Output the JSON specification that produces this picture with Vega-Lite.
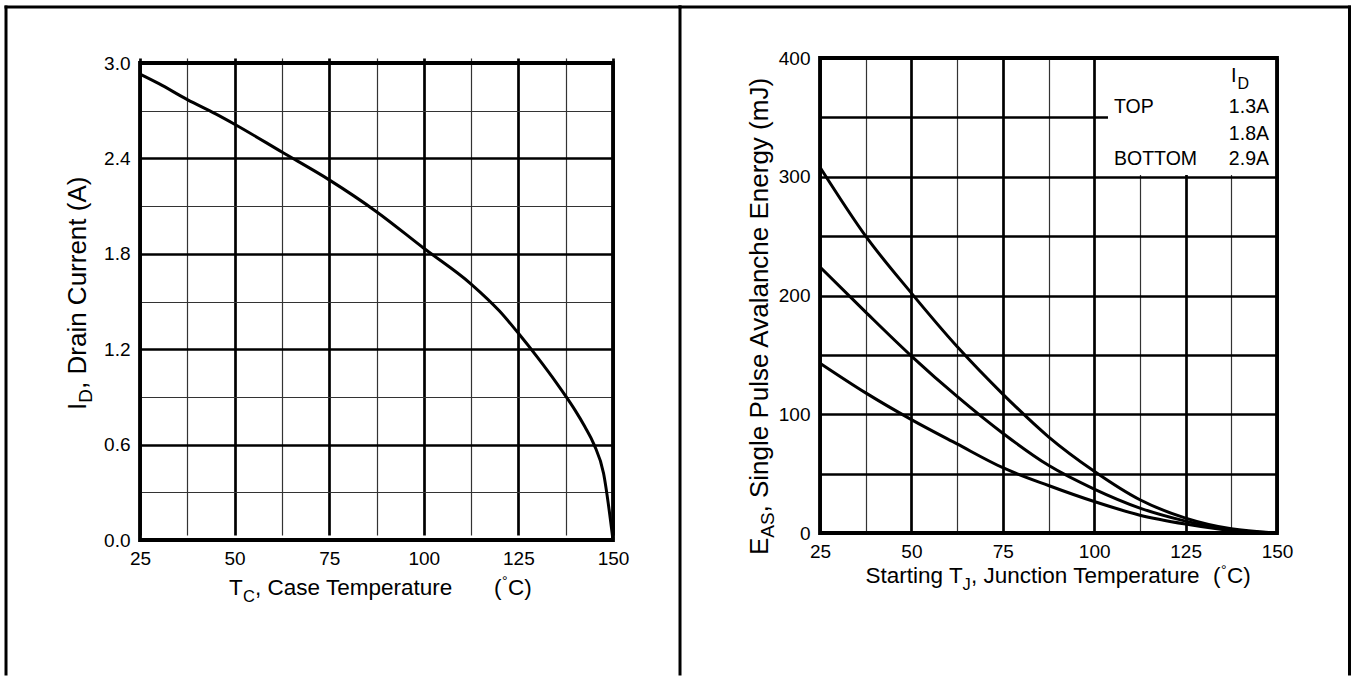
{
  "$schema": "https://vega.github.io/schema/vega-lite/v6.json",
  "background": "white",
  "padding": {"left": 3, "top": 4, "right": 0, "bottom": 0},
  "autosize": {"type": "pad"},
  "spacing": 207,
  "bounds": "flush",
  "config": {"view": {"stroke": null}, "font": "Liberation Sans", "text": {"font": "Liberation Sans", "color": "black"}},
  "hconcat": [
    {
      "width": 473,
      "height": 482,
      "layer": [
        {
          "data": {"values": [
            {"T": 25, "I": 2.93}, {"T": 30, "I": 2.87}, {"T": 37.5, "I": 2.77}, {"T": 45, "I": 2.68},
            {"T": 50, "I": 2.615}, {"T": 62.5, "I": 2.44}, {"T": 75, "I": 2.265}, {"T": 87.5, "I": 2.065},
            {"T": 100, "I": 1.835}, {"T": 112.5, "I": 1.61}, {"T": 120, "I": 1.44}, {"T": 125, "I": 1.30},
            {"T": 130, "I": 1.15}, {"T": 135, "I": 0.99}, {"T": 137.5, "I": 0.905}, {"T": 140, "I": 0.815},
            {"T": 142.5, "I": 0.715}, {"T": 145, "I": 0.6}, {"T": 147.5, "I": 0.42}, {"T": 150, "I": 0.0}
          ]},
          "mark": {"type": "line", "color": "black", "strokeWidth": 3, "interpolate": "monotone"},
          "encoding": {
            "x": {"field": "T", "type": "quantitative",
              "scale": {"domain": [25, 150], "nice": false, "zero": false},
              "axis": {"title": null, "values": [25, 37.5, 50, 62.5, 75, 87.5, 100, 112.5, 125, 137.5, 150],
                "labelExpr": "datum.value % 25 == 0 ? format(datum.value, 'd') : ''",
                "grid": true,
                "gridColor": {"condition": {"test": "datum.value % 25 == 0", "value": "#000000"}, "value": "#333333"},
                "gridWidth": {"condition": {"test": "datum.value % 25 == 0", "value": 2.7}, "value": 1.2},
                "domain": false, "ticks": false, "labelPadding": 9, "labelFontSize": 19, "labelFont": "Liberation Sans",
                "labelColor": "black", "labelFlush": false, "labelOverlap": false, "labelBound": false}},
            "y": {"field": "I", "type": "quantitative",
              "scale": {"domain": [0, 3], "range": [482, 5], "nice": false, "zero": false},
              "axis": {"title": null, "values": [0, 0.3, 0.6, 0.9, 1.2, 1.5, 1.8, 2.1, 2.4, 2.7, 3.0],
                "labelExpr": "round(datum.value * 10) % 6 == 0 ? format(datum.value, '.1f') : ''",
                "grid": true,
                "gridColor": {"condition": {"test": "round(datum.value * 10) % 6 == 0", "value": "#000000"}, "value": "#333333"},
                "gridWidth": {"condition": {"test": "round(datum.value * 10) % 6 == 0", "value": 2.7}, "value": 1.2},
                "domain": false, "ticks": false, "labelPadding": 10, "labelFontSize": 19, "labelFont": "Liberation Sans",
                "labelColor": "black", "labelFlush": false, "labelOverlap": false, "labelBound": false}}
          }
        },
        {
          "data": {"values": [{}]},
          "layer": [
            {
              "mark": {"type": "rect", "filled": false, "color": "black", "strokeWidth": 3.8},
              "encoding": {
                "x": {"datum": 25, "type": "quantitative"}, "x2": {"datum": 150},
                "y": {"datum": 0, "type": "quantitative"}, "y2": {"datum": 3}
              }
            },
            {
              "mark": {"type": "rule", "color": "black", "strokeWidth": 3, "strokeCap": "square"},
              "encoding": {
                "x": {"datum": -10.41, "type": "quantitative"},
                "y": {"datum": 3.352, "type": "quantitative"}, "y2": {"datum": -0.843}
              }
            },
            {
              "mark": {"type": "rule", "color": "black", "strokeWidth": 3, "strokeCap": "square"},
              "encoding": {
                "x": {"datum": 167.71, "type": "quantitative"},
                "y": {"datum": 3.352, "type": "quantitative"}, "y2": {"datum": -0.843}
              }
            },
            {
              "mark": {"type": "rule", "color": "black", "strokeWidth": 3, "strokeCap": "square"},
              "encoding": {
                "x": {"datum": -10.41, "type": "quantitative"}, "x2": {"datum": 167.71},
                "y": {"datum": 3.352, "type": "quantitative"}
              }
            },
            {
              "mark": {"type": "text", "text": "T", "fontSize": 22.5, "align": "left", "baseline": "alphabetic", "color": "black"},
              "encoding": {"x": {"datum": 48.52, "type": "quantitative"}, "y": {"datum": -0.346, "type": "quantitative"}}
            },
            {
              "mark": {"type": "text", "text": "C", "fontSize": 16.5, "align": "left", "baseline": "alphabetic", "color": "black"},
              "encoding": {"x": {"datum": 52.2, "type": "quantitative"}, "y": {"datum": -0.39, "type": "quantitative"}}
            },
            {
              "mark": {"type": "text", "text": ", Case Temperature", "fontSize": 22.5, "align": "left", "baseline": "alphabetic", "color": "black"},
              "encoding": {"x": {"datum": 55.4, "type": "quantitative"}, "y": {"datum": -0.346, "type": "quantitative"}}
            },
            {
              "mark": {"type": "text", "text": "(", "fontSize": 22.5, "align": "left", "baseline": "alphabetic", "color": "black"},
              "encoding": {"x": {"datum": 118.55, "type": "quantitative"}, "y": {"datum": -0.346, "type": "quantitative"}}
            },
            {
              "mark": {"type": "text", "text": "°", "fontSize": 14, "align": "left", "baseline": "alphabetic", "color": "black"},
              "encoding": {"x": {"datum": 120.67, "type": "quantitative"}, "y": {"datum": -0.289, "type": "quantitative"}}
            },
            {
              "mark": {"type": "text", "text": "C)", "fontSize": 22.5, "align": "left", "baseline": "alphabetic", "color": "black"},
              "encoding": {"x": {"datum": 122.25, "type": "quantitative"}, "y": {"datum": -0.346, "type": "quantitative"}}
            },
            {
              "mark": {"type": "text", "text": "I", "fontSize": 26, "angle": 270, "align": "left", "baseline": "alphabetic", "color": "black"},
              "encoding": {"x": {"datum": 10.73, "type": "quantitative"}, "y": {"datum": 0.818, "type": "quantitative"}}
            },
            {
              "mark": {"type": "text", "text": "D", "fontSize": 19, "angle": 270, "align": "left", "baseline": "alphabetic", "color": "black"},
              "encoding": {"x": {"datum": 12.31, "type": "quantitative"}, "y": {"datum": 0.863, "type": "quantitative"}}
            },
            {
              "mark": {"type": "text", "text": ", Drain Current (A)", "fontSize": 26, "angle": 270, "align": "left", "baseline": "alphabetic", "color": "black"},
              "encoding": {"x": {"datum": 10.73, "type": "quantitative"}, "y": {"datum": 0.95, "type": "quantitative"}}
            }
          ]
        }
      ]
    },
    {
      "width": 457,
      "height": 475,
      "layer": [
        {
          "data": {"values": [
            {"T": 25, "E": 308, "ID": "1.3A"}, {"T": 37.5, "E": 250, "ID": "1.3A"}, {"T": 50, "E": 202, "ID": "1.3A"},
            {"T": 62.5, "E": 157, "ID": "1.3A"}, {"T": 75, "E": 117, "ID": "1.3A"}, {"T": 87.5, "E": 81, "ID": "1.3A"},
            {"T": 100, "E": 52, "ID": "1.3A"}, {"T": 112.5, "E": 28, "ID": "1.3A"}, {"T": 125, "E": 12.5, "ID": "1.3A"},
            {"T": 137.5, "E": 3.5, "ID": "1.3A"}, {"T": 150, "E": 0, "ID": "1.3A"},
            {"T": 25, "E": 224, "ID": "1.8A"}, {"T": 37.5, "E": 186, "ID": "1.8A"}, {"T": 50, "E": 149, "ID": "1.8A"},
            {"T": 62.5, "E": 115, "ID": "1.8A"}, {"T": 75, "E": 84, "ID": "1.8A"}, {"T": 87.5, "E": 57, "ID": "1.8A"},
            {"T": 100, "E": 37, "ID": "1.8A"}, {"T": 112.5, "E": 21, "ID": "1.8A"}, {"T": 125, "E": 10, "ID": "1.8A"},
            {"T": 137.5, "E": 2.5, "ID": "1.8A"}, {"T": 150, "E": 0, "ID": "1.8A"},
            {"T": 25, "E": 143, "ID": "2.9A"}, {"T": 37.5, "E": 118, "ID": "2.9A"}, {"T": 50, "E": 95.5, "ID": "2.9A"},
            {"T": 62.5, "E": 75, "ID": "2.9A"}, {"T": 75, "E": 55, "ID": "2.9A"}, {"T": 87.5, "E": 40, "ID": "2.9A"},
            {"T": 100, "E": 26.5, "ID": "2.9A"}, {"T": 112.5, "E": 15, "ID": "2.9A"}, {"T": 125, "E": 7.5, "ID": "2.9A"},
            {"T": 137.5, "E": 2, "ID": "2.9A"}, {"T": 150, "E": 0, "ID": "2.9A"}
          ]},
          "mark": {"type": "line", "color": "black", "strokeWidth": 3, "interpolate": "monotone"},
          "encoding": {
            "detail": {"field": "ID", "type": "nominal"},
            "x": {"field": "T", "type": "quantitative",
              "scale": {"domain": [25, 150], "nice": false, "zero": false},
              "axis": {"title": null, "values": [25, 37.5, 50, 62.5, 75, 87.5, 100, 112.5, 125, 137.5, 150],
                "labelExpr": "datum.value % 25 == 0 ? format(datum.value, 'd') : ''",
                "grid": true,
                "gridColor": {"condition": {"test": "datum.value % 25 == 0", "value": "#000000"}, "value": "#333333"},
                "gridWidth": {"condition": {"test": "datum.value % 25 == 0", "value": 2.7}, "value": 1.2},
                "domain": false, "ticks": false, "labelPadding": 9, "labelFontSize": 19, "labelFont": "Liberation Sans",
                "labelColor": "black", "labelFlush": false, "labelOverlap": false, "labelBound": false}},
            "y": {"field": "E", "type": "quantitative",
              "scale": {"domain": [0, 400], "nice": false, "zero": false},
              "axis": {"title": null, "values": [0, 50, 100, 150, 200, 250, 300, 350, 400],
                "labelExpr": "datum.value % 100 == 0 ? format(datum.value, 'd') : ''",
                "grid": true, "gridColor": "#000000", "gridWidth": 2.7,
                "domain": false, "ticks": false, "labelPadding": 10, "labelFontSize": 19, "labelFont": "Liberation Sans",
                "labelColor": "black", "labelFlush": false, "labelOverlap": false, "labelBound": false}}
          }
        },
        {
          "data": {"values": [{}]},
          "layer": [
            {
              "mark": {"type": "rect", "color": "white", "strokeWidth": 0},
              "encoding": {
                "x": {"datum": 103.77, "type": "quantitative"}, "x2": {"datum": 150},
                "y": {"datum": 301.5, "type": "quantitative"}, "y2": {"datum": 400}
              }
            },
            {
              "mark": {"type": "rect", "filled": false, "color": "black", "strokeWidth": 3.8},
              "encoding": {
                "x": {"datum": 25, "type": "quantitative"}, "x2": {"datum": 150},
                "y": {"datum": 0, "type": "quantitative"}, "y2": {"datum": 400}
              }
            },
            {
              "mark": {"type": "rule", "color": "black", "strokeWidth": 3, "strokeCap": "square"},
              "encoding": {
                "x": {"datum": 169.83, "type": "quantitative"},
                "y": {"datum": 442.95, "type": "quantitative"}, "y2": {"datum": -118.7}
              }
            },
            {
              "mark": {"type": "rule", "color": "black", "strokeWidth": 3, "strokeCap": "square"},
              "encoding": {
                "x": {"datum": -13.29, "type": "quantitative"}, "x2": {"datum": 169.83},
                "y": {"datum": 442.95, "type": "quantitative"}
              }
            },
            {
              "mark": {"type": "text", "text": "I", "fontSize": 20, "align": "left", "baseline": "alphabetic", "color": "black"},
              "encoding": {"x": {"datum": 137.42, "type": "quantitative"}, "y": {"datum": 379.8, "type": "quantitative"}}
            },
            {
              "mark": {"type": "text", "text": "D", "fontSize": 16, "align": "left", "baseline": "alphabetic", "color": "black"},
              "encoding": {"x": {"datum": 139.2, "type": "quantitative"}, "y": {"datum": 373.6, "type": "quantitative"}}
            },
            {
              "mark": {"type": "text", "text": "TOP", "fontSize": 19.5, "align": "left", "baseline": "alphabetic", "color": "black"},
              "encoding": {"x": {"datum": 105.42, "type": "quantitative"}, "y": {"datum": 353.7, "type": "quantitative"}}
            },
            {
              "mark": {"type": "text", "text": "1.3A", "fontSize": 19.5, "align": "right", "baseline": "alphabetic", "color": "black"},
              "encoding": {"x": {"datum": 147.81, "type": "quantitative"}, "y": {"datum": 353.7, "type": "quantitative"}}
            },
            {
              "mark": {"type": "text", "text": "1.8A", "fontSize": 19.5, "align": "right", "baseline": "alphabetic", "color": "black"},
              "encoding": {"x": {"datum": 147.81, "type": "quantitative"}, "y": {"datum": 331.0, "type": "quantitative"}}
            },
            {
              "mark": {"type": "text", "text": "BOTTOM", "fontSize": 19.5, "align": "left", "baseline": "alphabetic", "color": "black"},
              "encoding": {"x": {"datum": 105.42, "type": "quantitative"}, "y": {"datum": 309.9, "type": "quantitative"}}
            },
            {
              "mark": {"type": "text", "text": "2.9A", "fontSize": 19.5, "align": "right", "baseline": "alphabetic", "color": "black"},
              "encoding": {"x": {"datum": 147.81, "type": "quantitative"}, "y": {"datum": 309.9, "type": "quantitative"}}
            },
            {
              "mark": {"type": "text", "text": "Starting", "fontSize": 22.5, "align": "right", "baseline": "alphabetic", "color": "black"},
              "encoding": {"x": {"datum": 58.64, "type": "quantitative"}, "y": {"datum": -42.1, "type": "quantitative"}}
            },
            {
              "mark": {"type": "text", "text": "T", "fontSize": 22.5, "align": "left", "baseline": "alphabetic", "color": "black"},
              "encoding": {"x": {"datum": 60.28, "type": "quantitative"}, "y": {"datum": -42.1, "type": "quantitative"}}
            },
            {
              "mark": {"type": "text", "text": "J", "fontSize": 16.5, "align": "left", "baseline": "alphabetic", "color": "black"},
              "encoding": {"x": {"datum": 63.95, "type": "quantitative"}, "y": {"datum": -48.0, "type": "quantitative"}}
            },
            {
              "mark": {"type": "text", "text": ", Junction Temperature", "fontSize": 22.5, "align": "left", "baseline": "alphabetic", "color": "black"},
              "encoding": {"x": {"datum": 66.3, "type": "quantitative"}, "y": {"datum": -42.1, "type": "quantitative"}}
            },
            {
              "mark": {"type": "text", "text": "(", "fontSize": 22.5, "align": "left", "baseline": "alphabetic", "color": "black"},
              "encoding": {"x": {"datum": 132.5, "type": "quantitative"}, "y": {"datum": -42.1, "type": "quantitative"}}
            },
            {
              "mark": {"type": "text", "text": "°", "fontSize": 14, "align": "left", "baseline": "alphabetic", "color": "black"},
              "encoding": {"x": {"datum": 134.7, "type": "quantitative"}, "y": {"datum": -35.4, "type": "quantitative"}}
            },
            {
              "mark": {"type": "text", "text": "C)", "fontSize": 22.5, "align": "left", "baseline": "alphabetic", "color": "black"},
              "encoding": {"x": {"datum": 136.3, "type": "quantitative"}, "y": {"datum": -42.1, "type": "quantitative"}}
            },
            {
              "mark": {"type": "text", "text": "E", "fontSize": 26, "angle": 270, "align": "left", "baseline": "alphabetic", "color": "black"},
              "encoding": {"x": {"datum": 10.78, "type": "quantitative"}, "y": {"datum": -18.5, "type": "quantitative"}}
            },
            {
              "mark": {"type": "text", "text": "AS", "fontSize": 19, "angle": 270, "align": "left", "baseline": "alphabetic", "color": "black"},
              "encoding": {"x": {"datum": 12.42, "type": "quantitative"}, "y": {"datum": -3.96, "type": "quantitative"}}
            },
            {
              "mark": {"type": "text", "text": "\u00a0, Single Pulse Avalanche Energy (mJ)", "fontSize": 26, "angle": 270, "align": "left", "baseline": "alphabetic", "color": "black"},
              "encoding": {"x": {"datum": 10.78, "type": "quantitative"}, "y": {"datum": 17.3, "type": "quantitative"}}
            }
          ]
        }
      ]
    }
  ]
}
